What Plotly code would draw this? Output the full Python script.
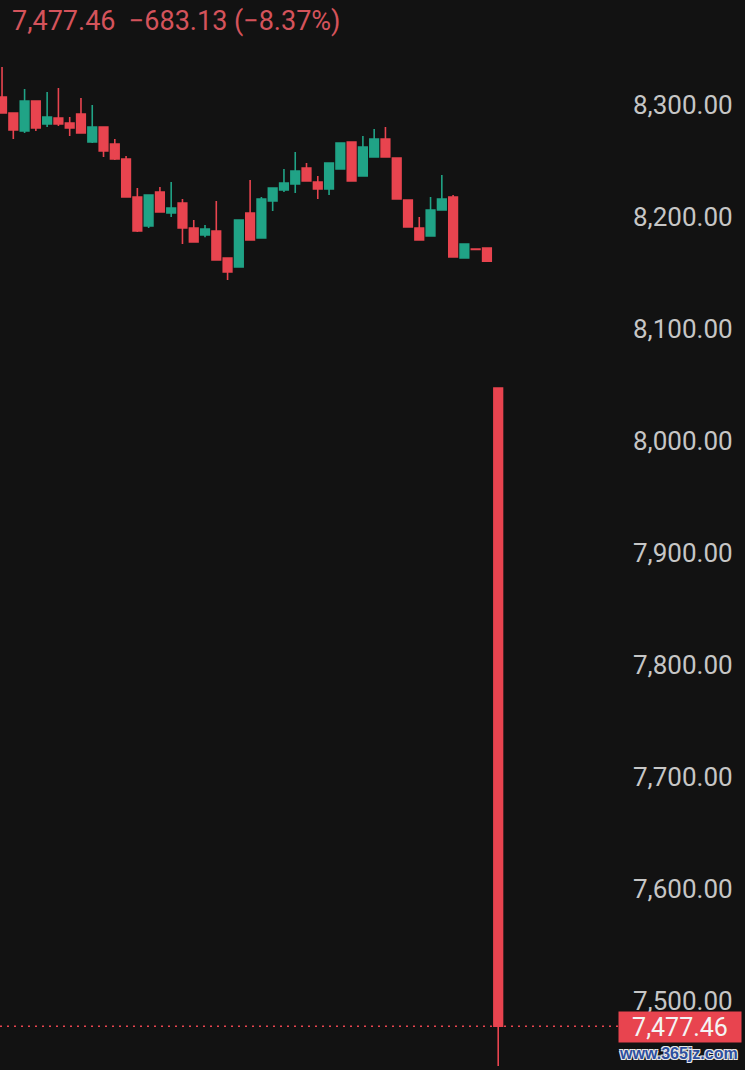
import plotly.graph_objects as go

# candle data (index = bar position)
idx = list(range(45))
opens = [8307.1, 8292.9, 8276.8, 8303.6, 8283.0, 8288.4, 8283.9, 8292.0, 8267.0, 8280.4,
         8265.2, 8251.8, 8217.9, 8192.0, 8222.3, 8203.6, 8212.5, 8190.2, 8183.9, 8187.5,
         8163.4, 8155.4, 8203.6, 8181.3, 8214.3, 8224.1, 8229.5, 8243.8, 8231.3, 8225.0,
         8242.9, 8267.0, 8236.6, 8253.6, 8269.6, 8252.7, 8215.2, 8190.2, 8183.0, 8206.3,
         8217.9, 8163.4, 8171.4, 8172.3, 8047.3]
highs = [8333.9, 8292.9, 8314.3, 8303.6, 8311.6, 8315.2, 8289.3, 8306.3, 8300.0, 8280.4,
         8269.6, 8254.5, 8225.9, 8219.6, 8226.8, 8231.3, 8216.1, 8197.3, 8192.9, 8214.3,
         8163.4, 8197.3, 8233.0, 8217.9, 8225.9, 8242.9, 8258.0, 8248.2, 8236.6, 8248.2,
         8266.1, 8267.0, 8272.3, 8278.6, 8280.4, 8252.7, 8215.2, 8200.0, 8217.9, 8237.5,
         8219.6, 8175.9, 8171.4, 8172.3, 8047.3]
lows = [8292.9, 8269.6, 8275.0, 8276.8, 8280.4, 8281.3, 8272.3, 8275.0, 8266.1, 8253.6,
        8250.9, 8217.9, 8186.6, 8190.2, 8204.5, 8200.0, 8175.9, 8177.7, 8182.0, 8161.6,
        8143.8, 8155.4, 8179.5, 8181.3, 8205.4, 8222.3, 8221.4, 8232.1, 8216.1, 8219.6,
        8242.9, 8232.1, 8236.6, 8253.6, 8252.9, 8216.1, 8191.1, 8179.5, 8183.0, 8206.3,
        8164.3, 8163.4, 8171.0, 8160.6, 7442.0]
closes = [8292.9, 8277.7, 8303.6, 8279.5, 8289.3, 8283.0, 8279.5, 8275.0, 8280.4, 8258.9,
          8251.8, 8217.9, 8187.5, 8219.6, 8204.5, 8208.0, 8190.2, 8177.7, 8189.3, 8161.6,
          8150.9, 8197.3, 8179.5, 8216.1, 8225.9, 8230.4, 8241.1, 8232.1, 8225.0, 8248.2,
          8266.1, 8232.1, 8262.5, 8269.6, 8253.6, 8216.1, 8191.1, 8179.5, 8206.3, 8216.1,
          8164.3, 8175.9, 8171.0, 8160.6, 7477.46]

last_price = 7477.46
change = -683.13
change_pct = -8.37
y_ticks = [7500, 7600, 7700, 7800, 7900, 8000, 8100, 8200, 8300]

RED = "#e8444f"
GREEN = "#20a386"
BG = "#121212"

fig = go.Figure()
fig.add_trace(go.Candlestick(
    x=idx, open=opens, high=highs, low=lows, close=closes,
    increasing=dict(line=dict(color=GREEN, width=1.6), fillcolor=GREEN),
    decreasing=dict(line=dict(color=RED, width=1.6), fillcolor=RED),
    whiskerwidth=0, hoverinfo="skip", showlegend=False,
))

# last price dotted line
fig.add_shape(type="line", xref="paper", x0=0, x1=1, yref="y", y0=last_price, y1=last_price,
              line=dict(color=RED, width=1.5, dash="2px,5px"))

# header text
fig.add_annotation(
    xref="paper", yref="paper", x=0, y=1, xanchor="left", yanchor="middle",
    xshift=10, yshift=-21, showarrow=False,
    text=f"{last_price:,.2f}  \u2212{abs(change):.2f} (\u2212{abs(change_pct):.2f}%)",
    font=dict(family="Roboto", size=27, color="#d4535b"),
)

# price tag on the axis
fig.add_annotation(
    xref="paper", yref="y", x=1, y=last_price, xanchor="left", yanchor="middle",
    xshift=-2, yshift=-1, showarrow=False, width=120, height=28, bgcolor=RED,
    text=f"{last_price:,.2f}", font=dict(family="Roboto", size=25, color="#f4f4f4"),
)

# watermark
fig.add_annotation(
    xref="paper", yref="paper", x=1, y=0, xanchor="left", yanchor="middle",
    xshift=-3, yshift=17, showarrow=False, text="<b>www.365jz.com</b>",
    font=dict(family="Liberation Sans", size=16, color="#2d4f9e",
              shadow="1px 1px 0 #e8e8e8, -1px -1px 0 #e8e8e8, 1px -1px 0 #e8e8e8, -1px 1px 0 #e8e8e8"),
)

fig.update_layout(
    width=745, height=1070,
    margin=dict(l=0, r=125, t=0, b=0),
    paper_bgcolor=BG, plot_bgcolor=BG,
    boxgap=0.15, boxgroupgap=0.1,
    xaxis=dict(visible=False, range=[-0.18, 54.8], rangeslider=dict(visible=False)),
    yaxis=dict(side="right", range=[7438.4, 8393.75], tickvals=y_ticks, tickformat=",.2f",
               showgrid=False, zeroline=False, showline=False, ticks="",
               ticklabelstandoff=12,
               tickfont=dict(family="Roboto", size=26, color="#c6c6c6")),
)

# page body has a default margin; drop it so the chart fills the window
fig.write_html("out.html", config={"displayModeBar": False},
               post_script="document.body.style.margin='0';")
